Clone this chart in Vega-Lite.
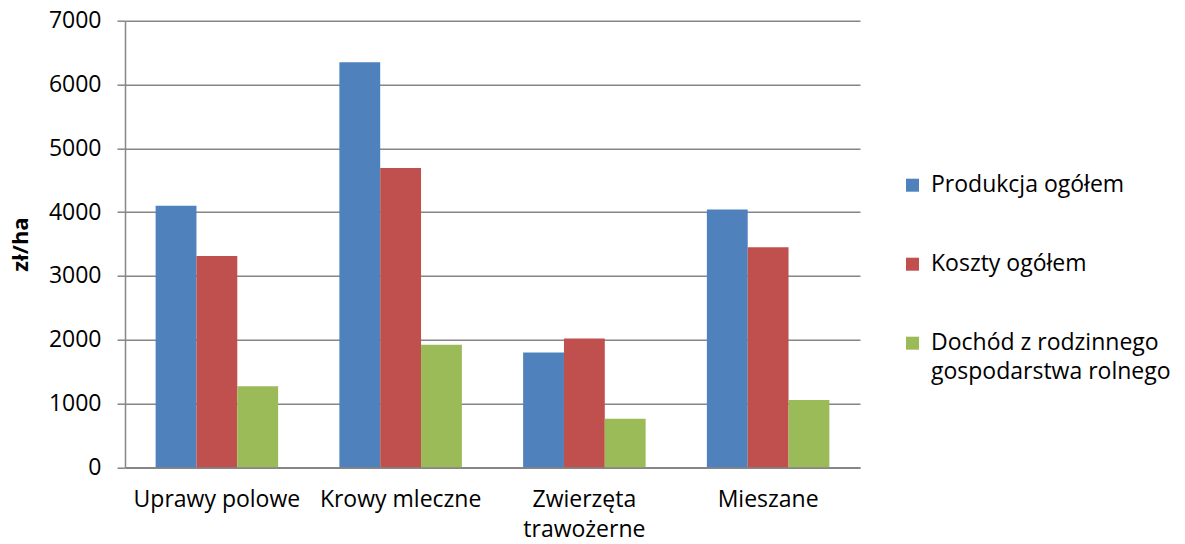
{
  "$schema": "https://vega.github.io/schema/vega-lite/v6.json",
  "autosize": {"type": "none"},
  "width": 735,
  "height": 446.6,
  "padding": {"left": 125, "top": 20.7, "right": 325, "bottom": 76.7},
  "background": "white",
  "config": {
    "font": "Open Sans",
    "view": {"stroke": null},
    "style": {"guide-label": {"lineHeight": 29}}
  },
  "data": {
    "values": [
      {"kategoria": "Uprawy polowe", "seria": "Produkcja ogółem", "wartosc": 4100},
      {"kategoria": "Uprawy polowe", "seria": "Koszty ogółem", "wartosc": 3310},
      {"kategoria": "Uprawy polowe", "seria": "Dochód z rodzinnego gospodarstwa rolnego", "wartosc": 1270},
      {"kategoria": "Krowy mleczne", "seria": "Produkcja ogółem", "wartosc": 6350},
      {"kategoria": "Krowy mleczne", "seria": "Koszty ogółem", "wartosc": 4690},
      {"kategoria": "Krowy mleczne", "seria": "Dochód z rodzinnego gospodarstwa rolnego", "wartosc": 1920},
      {"kategoria": "Zwierzęta trawożerne", "seria": "Produkcja ogółem", "wartosc": 1800},
      {"kategoria": "Zwierzęta trawożerne", "seria": "Koszty ogółem", "wartosc": 2020},
      {"kategoria": "Zwierzęta trawożerne", "seria": "Dochód z rodzinnego gospodarstwa rolnego", "wartosc": 760},
      {"kategoria": "Mieszane", "seria": "Produkcja ogółem", "wartosc": 4040},
      {"kategoria": "Mieszane", "seria": "Koszty ogółem", "wartosc": 3450},
      {"kategoria": "Mieszane", "seria": "Dochód z rodzinnego gospodarstwa rolnego", "wartosc": 1055}
    ]
  },
  "mark": {"type": "bar"},
  "encoding": {
    "x": {
      "field": "kategoria",
      "type": "nominal",
      "sort": null,
      "scale": {"paddingInner": 0.3333, "paddingOuter": 0.16667},
      "axis": {
        "title": null,
        "labelAngle": 0,
        "labelFont": "Open Sans",
        "labelFontSize": 23,
        "labelColor": "#000000",
        "labelPadding": 21,
        "labelLineHeight": 30,
        "labelBaseline": "top",
        "labelExpr": "datum.value == 'Zwierzęta trawożerne' ? ['Zwierzęta', 'trawożerne'] : datum.value",
        "ticks": false,
        "domainColor": "#868686",
        "domainWidth": 1.5,
        "grid": false
      }
    },
    "xOffset": {
      "field": "seria",
      "type": "nominal",
      "sort": ["Produkcja ogółem", "Koszty ogółem", "Dochód z rodzinnego gospodarstwa rolnego"],
      "scale": {"paddingInner": 0, "paddingOuter": 0}
    },
    "y": {
      "field": "wartosc",
      "type": "quantitative",
      "scale": {"domain": [0, 7000], "nice": false},
      "axis": {
        "title": "zł/ha",
        "titleFont": "Open Sans",
        "titleFontSize": 22,
        "titleFontWeight": "bold",
        "titleColor": "#000000",
        "titlePadding": 16,
        "values": [0, 1000, 2000, 3000, 4000, 5000, 6000, 7000],
        "format": "d",
        "labelFont": "Open Sans",
        "labelFontSize": 23,
        "labelColor": "#000000",
        "labelPadding": 16,
        "tickSize": 8,
        "tickColor": "#868686",
        "tickWidth": 1.5,
        "domainColor": "#868686",
        "domainWidth": 1.5,
        "gridColor": "#868686",
        "gridWidth": 1.5
      }
    },
    "color": {
      "field": "seria",
      "type": "nominal",
      "sort": ["Produkcja ogółem", "Koszty ogółem", "Dochód z rodzinnego gospodarstwa rolnego"],
      "scale": {
        "domain": ["Produkcja ogółem", "Koszty ogółem", "Dochód z rodzinnego gospodarstwa rolnego"],
        "range": ["#4F81BD", "#C0504D", "#9BBB59"]
      },
      "legend": {
        "title": null,
        "orient": "none",
        "legendX": 776,
        "legendY": 153,
        "symbolType": "square",
        "symbolSize": 169,
        "symbolStrokeWidth": 0,
        "labelFont": "Open Sans",
        "labelFontSize": 23,
        "labelColor": "#000000",
        "labelLimit": 400,
        "labelOffset": 7,
        "rowPadding": 55,
        "labelExpr": "datum.label == 'Dochód z rodzinnego gospodarstwa rolnego' ? ['Dochód z rodzinnego', 'gospodarstwa rolnego'] : datum.label",
        "encoding": {
          "labels": {
            "enter": {"lineHeight": {"value": 29}},
            "update": {"lineHeight": {"value": 29}}
          }
        }
      }
    }
  }
}
